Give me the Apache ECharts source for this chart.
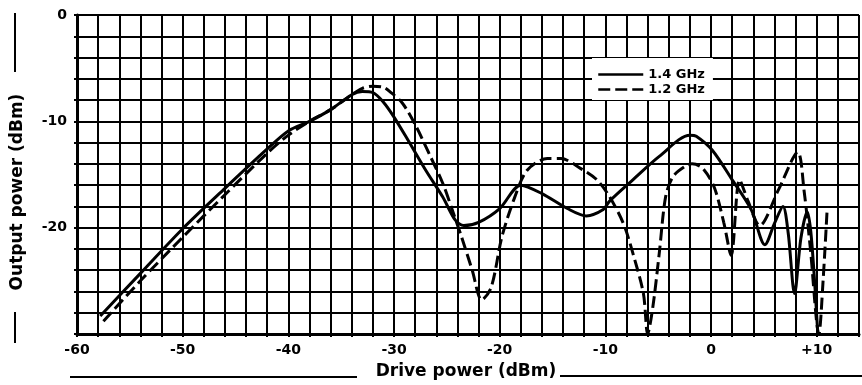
<!DOCTYPE html>
<html>
<head>
<meta charset="utf-8">
<script src="https://cdn.jsdelivr.net/npm/echarts@6/dist/echarts.min.js"></script>
<style>
html,body{margin:0;padding:0;background:#fff;}
#chart{width:862px;height:385px;}
</style>
</head>
<body>
<div id="chart"></div>
<script>
// Drive power (dBm) / Output power (dBm) readings
var driveRange = [-60, 14];
var outputRange = [-30, 0];
var xTickLabels = ['-60', '-50', '-40', '-30', '-20', '-10', '0', '+10'];
var yTickLabels = ['0', '-10', '-20'];
var seriesNames = ['1.4 GHz', '1.2 GHz'];

var drive14 = [-57.8, -54, -50, -46, -42, -40, -38, -36, -34, -33, -32, -31, -30, -28.6, -27, -25.4, -24.2, -23.4, -22, -20, -18, -16, -13.6, -11.8, -10.2, -9.6, -7.4, -4.9, -2, -1.4, 0.1, 2, 3.8, 5.1, 6.0, 6.8, 7.3, 7.9, 8.5, 9.1, 9.5, 10.1];
var out14 =   [-28.3, -24.3, -20.1, -16.3, -12.6, -10.9, -10.0, -8.9, -7.5, -7.2, -7.3, -8.2, -9.6, -11.9, -14.6, -17.1, -19.3, -19.8, -19.5, -18.2, -16.0, -16.8, -18.2, -18.9, -18.3, -17.5, -15.5, -13.3, -11.3, -11.4, -12.7, -15.5, -18.3, -21.6, -19.6, -18.0, -20.5, -26.2, -21.0, -18.5, -21.0, -30.0];

var drive12 = [-57.5, -54, -50, -46, -42, -40, -38, -36, -34, -33, -32, -31, -30.4, -29.2, -27.9, -26.7, -25.4, -24.5, -23.6, -22.6, -21.7, -20.8, -19.8, -18.6, -17.4, -15.5, -14.2, -12.4, -10.8, -9.6, -8.3, -7.4, -6.4, -6.0, -5.5, -4.9, -4.3, -3.6, -2.4, -1.8, -0.8, 0.3, 1.2, 1.9, 2.7, 3.5, 4.6, 6.4, 8.2, 8.8, 9.4, 10.2, 10.6, 11.0];
var out12 =   [-28.8, -25.0, -20.9, -16.9, -13.0, -11.3, -10.0, -8.9, -7.5, -6.9, -6.7, -6.8, -7.2, -8.3, -10.5, -13.0, -15.8, -18.3, -20.9, -24.0, -26.8, -25.6, -20.9, -17.2, -14.6, -13.5, -13.5, -14.4, -15.5, -17.1, -19.6, -22.4, -26.2, -30.0, -27.4, -22.4, -17.1, -15.2, -14.2, -14.0, -14.4, -16.2, -19.5, -22.6, -15.5, -17.5, -19.8, -16.4, -12.9, -16.5, -22.0, -30.0, -25.0, -18.0];

function pairs(xs, ys) { return xs.map(function (x, i) { return [x, ys[i]]; }); }

var FONT = 'DejaVu Sans';
var chart = echarts.init(document.getElementById('chart'), null, {renderer: 'canvas'});
chart.setOption({
  animation: false,
  backgroundColor: '#fff',
  color: ['#000', '#000'],
  grid: {left: 77, top: 15, width: 792, height: 319, containLabel: false},
  xAxis: {
    type: 'value', min: driveRange[0], max: driveRange[1], interval: 2,
    axisLine: {show: true, onZero: false, lineStyle: {color: '#000', width: 3}},
    axisTick: {show: true, length: 3, lineStyle: {color: '#000', width: 2}},
    splitLine: {show: true, lineStyle: {color: '#000', width: 2}},
    axisLabel: {
      margin: 9, color: '#000', fontFamily: FONT, fontWeight: 'bold', fontSize: 14,
      formatter: function (v) {
        var s = v > 0 ? '+' + v : String(v);
        return xTickLabels.indexOf(s) >= 0 ? s : '';
      }
    }
  },
  yAxis: {
    type: 'value', min: outputRange[0], max: outputRange[1], interval: 2,
    axisLine: {show: true, onZero: false, lineStyle: {color: '#000', width: 3}},
    axisTick: {show: true, length: 3, lineStyle: {color: '#000', width: 2}},
    splitLine: {show: true, lineStyle: {color: '#000', width: 2}},
    axisLabel: {
      margin: 10, color: '#000', fontFamily: FONT, fontWeight: 'bold', fontSize: 14,
      formatter: function (v) {
        var s = String(v);
        return yTickLabels.indexOf(s) >= 0 ? s : '';
      }
    }
  },
  legend: {
    orient: 'vertical', left: 592, top: 58,
    padding: [10, 8, 4, 5], itemGap: 2, itemWidth: 45, itemHeight: 12,
    backgroundColor: '#fff',
    itemStyle: {opacity: 0},
    lineStyle: {width: 2.5, color: '#000'},
    textStyle: {color: '#000', fontFamily: FONT, fontWeight: 'bold', fontSize: 13, lineHeight: 12},
    data: seriesNames
  },
  series: [
    {
      name: seriesNames[0], type: 'line', data: pairs(drive14, out14),
      smooth: 0.3, symbol: 'none', z: 5,
      itemStyle: {color: '#000'},
      lineStyle: {color: '#000', width: 3}
    },
    {
      name: seriesNames[1], type: 'line', data: pairs(drive12, out12),
      smooth: 0.3, symbol: 'none', z: 5,
      itemStyle: {color: '#000'},
      lineStyle: {color: '#000', width: 3, type: [12, 5]}
    }
  ],
  graphic: [
    {type: 'text', x: 18, y: 192, rotation: Math.PI / 2,
      style: {text: 'Output power (dBm)', fill: '#000', font: 'bold 17px "DejaVu Sans"', align: 'center', verticalAlign: 'middle'}},
    {type: 'line', shape: {x1: 15, y1: 13, x2: 15, y2: 72}, style: {stroke: '#000', lineWidth: 2}},
    {type: 'line', shape: {x1: 15, y1: 312, x2: 15, y2: 343}, style: {stroke: '#000', lineWidth: 2}},
    {type: 'text', x: 466, y: 372,
      style: {text: 'Drive power (dBm)', fill: '#000', font: 'bold 17px "DejaVu Sans"', align: 'center', verticalAlign: 'middle'}},
    {type: 'line', shape: {x1: 70, y1: 377, x2: 357, y2: 377}, style: {stroke: '#000', lineWidth: 2}},
    {type: 'line', shape: {x1: 560, y1: 376, x2: 862, y2: 376}, style: {stroke: '#000', lineWidth: 2}}
  ]
});
</script>
</body>
</html>
